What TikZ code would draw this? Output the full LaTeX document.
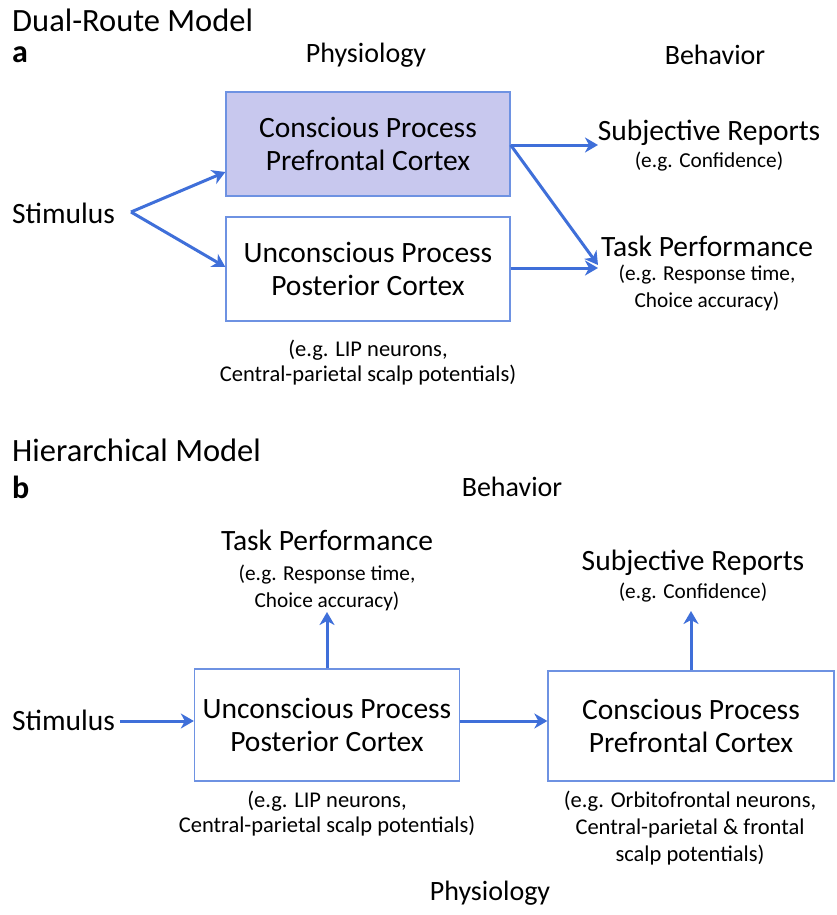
\documentclass[tikz,border=0pt]{standalone}
\usepackage{fontspec}
\setmainfont{Carlito}
\usetikzlibrary{arrows.meta}
\definecolor{arr}{HTML}{3F6FD9}
\definecolor{bord}{HTML}{6E92E2}
\definecolor{lav}{HTML}{C8C8EE}
\tikzset{
  boxn/.style={draw=bord, line width=1.3pt, minimum width=#1, inner sep=0pt, align=center, font=\fontsize{29.5}{33}\selectfont, text=black},
  lbl/.style={inner sep=0pt, align=center, text=black},
  big/.style={lbl, font=\fontsize{29.5}{33}\selectfont},
  head/.style={lbl, font=\fontsize{28}{30}\selectfont},
  small/.style={lbl, font=\fontsize{21.3}{27}\selectfont},
  note/.style={lbl, font=\fontsize{22.5}{25}\selectfont},
  title/.style={lbl, anchor=west, font=\fontsize{32.5}{33}\selectfont},
  ar/.style={draw=arr, line width=3pt, -{Stealth[length=13pt,width=15pt,inset=4pt]}},
}
\begin{document}
\begin{tikzpicture}[x=1pt,y=-1pt]
\useasboundingbox (0,0) rectangle (837,915);
% ---- part a ----
\node[title] (ta) at (12,20) {Dual-Route Model};
\node[title, font=\fontsize{32}{32}\selectfont\bfseries] (la) at (12,55) {a};
\node[head] (phya) at (366,55) {Physiology};
\node[head] (beha) at (715,55) {Behavior};

\node[boxn=284pt, minimum height=104pt, fill=lav] (cpa) at (368,144) {Conscious Process\\Prefrontal Cortex};
\node[boxn=284pt, minimum height=104pt] (upa) at (368,269) {Unconscious Process\\Posterior Cortex};
\node[note] (nua) at (368,363) {(e.g. LIP neurons,\\Central-parietal scalp potentials)};

\node[big, anchor=west] (sa) at (12,213) {Stimulus};
\coordinate (sapex) at (131,212);

\node[big] (sra) at (709,133) {Subjective Reports};
\node[small] (srna) at (709,162) {(e.g. Confidence)};
\node[big] (tpa) at (707,246) {Task Performance};
\node[small] (tpna) at (707,288) {(e.g. Response time,\\Choice accuracy)};

\draw[ar] (sapex) -- (cpa.west |- 0,172);
\draw[ar] (sapex) -- (upa.west |- 0,267);
\draw[ar] (cpa.east |- 0,145) -- (598,145);
\draw[ar] (cpa.east |- 0,145) -- (598,265);
\draw[ar] (upa.east |- 0,268) -- (598,268);

% ---- part b ----
\node[title] (tb) at (12,450) {Hierarchical Model};
\node[title, font=\fontsize{32}{32}\selectfont\bfseries] (lb) at (12,487) {b};
\node[head] (behb) at (512,487) {Behavior};
\node[head] (phyb) at (490,893) {Physiology};

\node[boxn=265pt, minimum height=112pt] (upb) at (327,725) {Unconscious Process\\Posterior Cortex};
\node[boxn=286pt, minimum height=110pt] (cpb) at (691,726) {Conscious Process\\Prefrontal Cortex};

\node[big] (tpb) at (327,540) {Task Performance};
\node[small] (tpnb) at (327,588) {(e.g. Response time,\\Choice accuracy)};
\node[big] (srb) at (693,563) {Subjective Reports};
\node[small] (srnb) at (693,593) {(e.g. Confidence)};

\node[note] (nub) at (327,814) {(e.g. LIP neurons,\\Central-parietal scalp potentials)};
\node[note, font=\fontsize{22.5}{27}\selectfont] (ncb) at (690,828) {(e.g. Orbitofrontal neurons,\\Central-parietal \& frontal\\scalp potentials)};

\node[big, anchor=west] (sb) at (12,720) {Stimulus};

\coordinate (sbs) at (120,721);
\draw[ar] (sbs) -- (upb.west |- sbs);
\draw[ar] (upb.east |- 0,721) -- (cpb.west |- 0,721);
\draw[ar] (upb.north) -- (upb.north |- 0,612);
\draw[ar] (cpb.north) -- (cpb.north |- 0,611);
\end{tikzpicture}
\end{document}
